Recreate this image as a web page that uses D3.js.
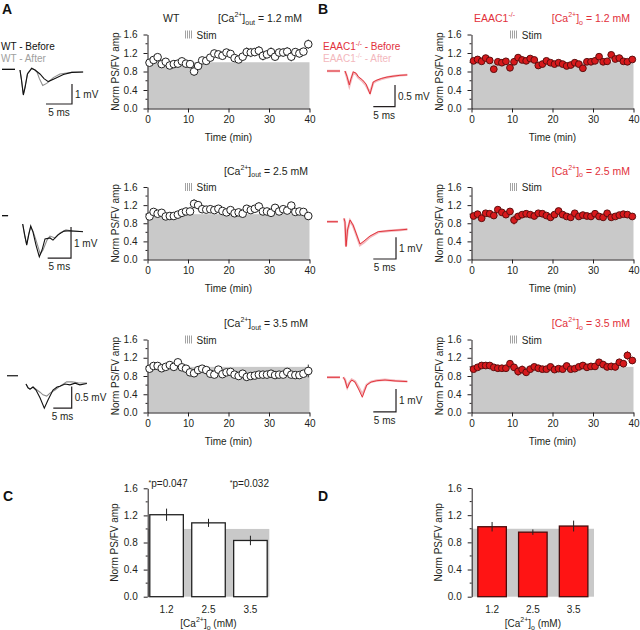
<!DOCTYPE html>
<html><head><meta charset="utf-8">
<script src="https://cdn.jsdelivr.net/npm/d3@7"></script>
<style>body{margin:0;background:#fff;} text{font-family:"Liberation Sans",Arial,sans-serif;}</style>
</head><body>
<script>
// ---------------- DATA ----------------
const minutes = [0.5,1.5,2.5,3.5,4.5,5.5,6.5,7.5,8.5,9.5,10.5,11.5,12.5,13.5,14.5,15.5,16.5,17.5,18.5,19.5,20.5,21.5,22.5,23.5,24.5,25.5,26.5,27.5,28.5,29.5,30.5,31.5,32.5,33.5,34.5,35.5,36.5,37.5,38.5,39.7];
const yTicks = [0,0.4,0.8,1.2,1.6];
const yMinorTicks = [0.2,0.6,1.0,1.4];
const timeTicks = [0,10,20,30,40];
const stimMarks = [0,0.5,1.0,1.5]; // minutes offsets of the four stim bars

const wt12 = [0.99,1.05,1.11,0.96,1.01,0.93,0.96,0.97,1.02,0.97,0.96,0.80,0.92,1.04,1.03,1.10,1.19,1.17,1.14,1.21,1.18,1.09,1.06,1.12,1.22,1.21,1.22,1.25,1.14,1.17,1.22,1.12,1.21,1.21,1.23,1.12,1.22,1.19,1.23,1.39];
const wt12Err = [0.04,0.05,0.04,0.05,0.05,0.05,0.04,0.05,0.05,0.05,0.06,0.09,0.06,0.06,0.06,0.07,0.08,0.08,0.07,0.08,0.08,0.07,0.07,0.08,0.10,0.10,0.09,0.10,0.10,0.08,0.10,0.08,0.09,0.09,0.10,0.10,0.08,0.09,0.08,0.10];
const wt25 = [0.95,1.05,1.01,1.03,0.95,0.96,0.96,0.99,1.03,1.06,1.06,1.23,1.20,1.11,1.10,1.11,1.09,1.12,1.07,1.04,1.09,1.02,1.04,1.01,1.12,1.09,1.12,1.17,1.06,1.06,1.03,1.14,1.06,1.11,1.08,1.19,1.05,1.06,1.05,0.96];
const wt25Err = [0.05,0.05,0.05,0.05,0.05,0.05,0.05,0.05,0.05,0.06,0.06,0.10,0.08,0.07,0.07,0.07,0.06,0.06,0.06,0.06,0.06,0.06,0.06,0.06,0.07,0.08,0.08,0.09,0.07,0.06,0.06,0.08,0.06,0.07,0.07,0.08,0.07,0.07,0.07,0.06];
const wt35 = [0.96,1.02,1.02,0.97,1.00,1.04,1.00,1.10,0.99,0.96,0.88,0.86,0.93,0.96,0.93,0.85,0.83,0.94,0.84,0.88,0.89,0.83,0.80,0.85,0.78,0.80,0.81,0.83,0.83,0.83,0.85,0.82,0.83,0.83,0.89,0.83,0.82,0.82,0.85,0.91];
const wt35Err = [0.04,0.04,0.04,0.04,0.04,0.04,0.04,0.05,0.04,0.04,0.06,0.06,0.07,0.05,0.06,0.05,0.05,0.07,0.05,0.05,0.05,0.05,0.05,0.05,0.05,0.05,0.05,0.05,0.05,0.05,0.05,0.05,0.05,0.05,0.05,0.05,0.05,0.06,0.06,0.14];

const ko12 = [1.03,1.06,1.02,1.09,1.04,0.85,1.01,0.99,1.02,0.88,1.01,1.10,1.05,1.03,1.08,1.05,0.93,0.96,1.03,0.99,0.96,0.99,0.96,0.92,0.94,0.99,0.96,0.87,1.01,1.01,1.03,1.12,1.01,1.02,1.16,1.07,1.09,1.02,1.01,1.06];
const ko12Err = [0.05,0.05,0.05,0.05,0.05,0.05,0.06,0.05,0.05,0.06,0.06,0.07,0.06,0.06,0.06,0.06,0.06,0.06,0.06,0.05,0.05,0.05,0.05,0.05,0.05,0.05,0.05,0.05,0.05,0.05,0.05,0.06,0.05,0.06,0.06,0.06,0.06,0.05,0.05,0.05];
const ko25 = [0.96,1.00,0.91,1.02,1.01,0.97,1.10,1.04,0.99,1.06,0.87,0.95,0.99,1.01,0.99,0.96,1.02,1.01,0.97,0.93,0.99,1.07,0.99,0.95,0.93,1.02,0.95,0.98,0.96,0.95,1.01,0.95,0.93,1.02,0.93,0.95,0.98,1.00,0.99,0.95];
const ko25Err = [0.04,0.04,0.04,0.04,0.04,0.04,0.05,0.04,0.04,0.05,0.10,0.06,0.06,0.06,0.05,0.05,0.05,0.05,0.05,0.05,0.05,0.05,0.05,0.05,0.05,0.05,0.05,0.04,0.04,0.04,0.04,0.04,0.04,0.05,0.05,0.04,0.04,0.04,0.04,0.04];
const ko35 = [0.95,0.99,1.03,1.03,1.03,0.99,0.97,0.97,0.97,1.07,0.99,0.90,0.94,0.88,0.95,1.00,0.97,0.95,0.95,1.00,0.94,0.96,0.95,1.02,0.95,0.96,1.00,1.03,0.99,1.01,1.01,1.10,1.05,1.00,1.01,1.00,1.10,1.07,1.25,1.14];
const ko35Err = [0.05,0.05,0.05,0.05,0.05,0.05,0.05,0.05,0.05,0.06,0.06,0.10,0.09,0.08,0.07,0.06,0.06,0.06,0.06,0.06,0.06,0.06,0.06,0.06,0.06,0.06,0.06,0.06,0.06,0.06,0.07,0.07,0.08,0.08,0.08,0.08,0.08,0.08,0.10,0.08];

const barCategories = ["1.2","2.5","3.5"];
const wtBarMeans = [1.21,1.09,0.83];
const wtBarErr = [0.09,0.06,0.07];
const koBarMeans = [1.03,0.95,1.04];
const koBarErr = [0.07,0.04,0.08];
const pValues = ["p=0.047","p=0.032"];

// example traces: [ms, mV]; null mV = gap
const traceA1Before = [[0,0.08],[2.5,0.08],[3,null],[3.46,0.05],[3.75,-0.45],[4.1,-1.2],[4.42,-0.85],[4.9,-0.15],[5.71,0.13],[6.35,0.05],[7.3,-0.15],[8.08,-0.38],[8.9,-0.53],[10.2,-0.37],[11.8,-0.17],[13.4,-0.07],[15.6,-0.05]];
const traceA1After = [[0,0.08],[2.5,0.08],[3,null],[3.46,0.05],[3.75,-0.45],[4.1,-1.15],[4.42,-0.8],[4.9,-0.12],[5.71,0.15],[6.35,0.05],[6.73,-0.05],[7.17,-0.37],[7.83,-0.73],[8.6,-0.62],[9.87,-0.33],[11.15,-0.15],[13.4,-0.07],[15.6,-0.05]];
const traceA2Before = [[0,0.27],[1.3,0.27],[2,null],[4.43,0],[4.86,-0.35],[5.29,-0.68],[5.72,-0.35],[6.15,-0.06],[6.64,-0.26],[7.28,-0.68],[7.99,-1.06],[8.57,-0.84],[9.21,-0.48],[10.28,-0.45],[10.92,-0.52],[11.99,-0.35],[13.28,-0.23],[14.56,-0.22],[17.34,-0.25]];
const traceA2After = [[0,0.27],[1.3,0.27],[2,null],[4.43,0],[4.86,-0.39],[5.29,-0.65],[5.72,-0.32],[6.15,-0.1],[6.64,-0.23],[7.28,-0.52],[8.2,-0.97],[8.78,-0.84],[9.64,-0.52],[10.28,-0.39],[11.35,-0.45],[12.42,-0.29],[13.7,-0.19],[15.0,-0.23],[17.34,-0.24]];
const traceA3Before = [[0,0.19],[3,0.19],[4,null],[5.16,0],[5.7,-0.09],[6.25,-0.12],[7.07,-0.07],[7.88,-0.14],[8.97,-0.32],[10.14,-0.56],[11.14,-0.37],[12.5,-0.14],[13.6,-0.07],[14.4,-0.05],[15.76,0],[17.1,-0.02],[18.5,0.02],[19.8,-0.02],[21.7,0.01]];
const traceA3After = [[0,0.19],[3,0.19],[4,null],[5.16,0],[5.7,-0.07],[6.25,-0.12],[7.07,-0.07],[7.88,-0.12],[8.97,-0.19],[9.78,-0.25],[10.79,-0.28],[11.68,-0.21],[13.04,-0.14],[14.4,-0.05],[16.22,0.05],[17.66,0.05],[19.29,0.03],[21.74,0.02]];
const traceB1Before = [[0,0],[3,0],[3.6,null],[4.15,0],[4.6,-0.12],[5.14,-0.32],[5.53,-0.18],[6.06,-0.02],[6.68,-0.05],[7.2,-0.13],[8.23,-0.21],[8.99,-0.3],[9.91,-0.53],[10.67,-0.25],[11.5,-0.21],[12.6,-0.17],[13.8,-0.14],[15.2,-0.12],[16.8,-0.1],[18.5,-0.09]];
const traceB1After = [[0,0],[3,0],[3.6,null],[4.15,0],[4.6,-0.14],[5.14,-0.34],[5.53,-0.2],[6.06,-0.04],[6.68,-0.07],[7.2,-0.15],[8.23,-0.24],[8.99,-0.33],[9.91,-0.5],[10.67,-0.27],[11.5,-0.22],[12.6,-0.18],[13.8,-0.15],[15.2,-0.12],[16.8,-0.1],[18.5,-0.09]];
const traceB2Before = [[0,0],[2.4,0],[3,null],[3.74,0.16],[3.96,-0.01],[4.19,-1.15],[4.52,-0.38],[5.07,0.08],[5.73,-0.15],[6.39,-0.52],[7.27,-1.03],[8.15,-0.89],[9.47,-0.66],[11.3,-0.46],[13.88,-0.41],[16.08,-0.38],[17.69,-0.35]];
const traceB2After = [[0,0],[2.4,0],[3,null],[3.74,0.14],[3.96,-0.03],[4.19,-1.1],[4.52,-0.4],[5.07,0.05],[5.73,-0.18],[6.39,-0.56],[7.27,-1.08],[8.15,-0.95],[9.47,-0.7],[11.3,-0.48],[13.88,-0.42],[16.08,-0.38],[17.69,-0.35]];
const traceB3Before = [[0,0],[2.86,0],[3.2,null],[3.59,0],[3.96,-0.12],[4.47,-0.48],[4.96,-0.25],[5.44,-0.12],[6.17,-0.21],[7.05,-0.56],[7.78,-0.88],[8.26,-0.6],[8.74,-0.34],[9.69,-0.21],[10.95,-0.15],[12.78,-0.12],[14.98,-0.16],[17.69,-0.19]];
const traceB3After = [[0,0],[2.86,0],[3.2,null],[3.59,0],[3.96,-0.1],[4.47,-0.44],[4.96,-0.22],[5.44,-0.1],[6.17,-0.18],[7.05,-0.48],[7.78,-0.76],[8.26,-0.55],[8.74,-0.33],[9.69,-0.2],[10.95,-0.14],[12.78,-0.11],[14.98,-0.15],[17.69,-0.18]];

// ---------------- STYLE ----------------
const AX = "#231f20", SHADE = "#c9c9c9", RED = "#e2313b", PINK = "#f3b8bd";
const svg = d3.select("body").append("svg").attr("width",640).attr("height",630);

function caTitle(g, x, y, sub, rest, color, anchor){
  const t = g.append("text").attr("x",x).attr("y",y).attr("font-size",10.5).attr("fill",color).attr("text-anchor",anchor||"start");
  t.append("tspan").text("[Ca");
  t.append("tspan").attr("font-size",7).attr("dy",-5).text("2+");
  t.append("tspan").attr("dy",5).text("]");
  t.append("tspan").attr("font-size",7).attr("dy",2.5).text(sub);
  t.append("tspan").attr("dy",-2.5).text(rest);
  return t;
}

function yAxisDraw(g, y, x0){
  const ax = g.append("g").attr("transform",`translate(${x0},0)`)
    .call(d3.axisLeft(y).tickValues(yTicks).tickSize(4).tickSizeOuter(0).tickPadding(6).tickFormat(d3.format(".1f")));
  ax.selectAll("text").attr("font-size",10).attr("fill",AX).style("font-family","Liberation Sans, Arial");
  ax.selectAll("line,path").attr("stroke",AX);
  g.append("g").selectAll("line").data(yMinorTicks).join("line")
    .attr("x1",x0-2).attr("x2",x0).attr("y1",d=>y(d)).attr("y2",d=>y(d)).attr("stroke",AX);
}

function timePanel(cfg){
  const g = svg.append("g");
  const x = d3.scaleLinear().domain([0,40]).range([cfg.x0,cfg.x1]);
  const y = d3.scaleLinear().domain([0,1.6]).range([cfg.yb,cfg.yt]);
  g.append("rect").attr("x",x(0)).attr("y",y(1)).attr("width",x(40)-x(0)).attr("height",y(0)-y(1)).attr("fill",SHADE);
  yAxisDraw(g, y, cfg.x0);
  const xa = g.append("g").attr("transform",`translate(0,${cfg.yb})`)
    .call(d3.axisBottom(x).tickValues(timeTicks).tickSize(4).tickSizeOuter(0).tickPadding(3).tickFormat(d3.format("d")));
  xa.selectAll("text").attr("font-size",10).attr("fill",AX).style("font-family","Liberation Sans, Arial");
  xa.selectAll("line,path").attr("stroke",AX);
  g.append("text").attr("transform",`translate(${cfg.x0-29},${(cfg.yb+cfg.yt)/2}) rotate(-90)`)
    .attr("text-anchor","middle").attr("font-size",10).attr("fill",AX).text("Norm PS/FV amp");
  g.append("text").attr("x",(cfg.x0+cfg.x1)/2).attr("y",cfg.yb+32).attr("text-anchor","middle").attr("font-size",10).attr("fill",AX).text("Time (min)");
  // stim bars + label
  g.append("g").selectAll("line").data(stimMarks).join("line")
    .attr("x1",d=>Math.round(x(cfg.stim+d))+0.5).attr("x2",d=>Math.round(x(cfg.stim+d))+0.5)
    .attr("y1",cfg.yt-4).attr("y2",cfg.yt+4).attr("stroke","#8a8a8a").attr("stroke-width",0.8);
  g.append("text").attr("x",x(cfg.stim+2.9)).attr("y",cfg.yt+4).attr("font-size",10).attr("fill",AX).text("Stim");
  // data
  const pts = minutes.map((m,i)=>({m, v:cfg.vals[i], e:cfg.errs[i]}));
  g.append("g").selectAll("line").data(pts).join("line")
    .attr("x1",d=>x(d.m)).attr("x2",d=>x(d.m)).attr("y1",d=>y(d.v-d.e)).attr("y2",d=>y(d.v+d.e))
    .attr("stroke",cfg.ko?"#d8232a":"#333").attr("stroke-width",1);
  g.append("g").selectAll("circle").data(pts).join("circle")
    .attr("cx",d=>x(d.m)).attr("cy",d=>y(d.v)).attr("r",cfg.ko?3.4:3.8)
    .attr("fill",cfg.ko?"#d7191c":"#fff").attr("stroke",cfg.ko?"#5c0f0f":"#222").attr("stroke-width",1);
  caTitle(g, cfg.titleX, cfg.titleY, cfg.ko?"o":"out", cfg.rest, cfg.ko?RED:AX, "end");
}

function tracePanel(cfg){
  const g = svg.append("g");
  const t = d3.scaleLinear().domain([0,1]).range([cfg.ox, cfg.ox+cfg.pxms]);
  const v = d3.scaleLinear().domain([0,1]).range([cfg.oy, cfg.oy-cfg.pxmv]);
  const line = d3.line().defined(d=>d[1]!==null).x(d=>t(d[0])).y(d=>v(d[1]));
  g.append("path").attr("d",line(cfg.after)).attr("fill","none").attr("stroke",cfg.afterColor).attr("stroke-width",cfg.afterW);
  g.append("path").attr("d",line(cfg.before)).attr("fill","none").attr("stroke",cfg.beforeColor).attr("stroke-width",cfg.beforeW);
  const sb = cfg.sb; // [ms corner, mV corner, mV size]
  g.append("path").attr("d",`M${t(sb[0]-5)},${v(sb[1])}H${t(sb[0])}V${v(sb[1]+sb[2])}`).attr("fill","none").attr("stroke",AX).attr("stroke-width",1.2);
  g.append("text").attr("x",t(sb[0])+3).attr("y",(v(sb[1])+v(sb[1]+sb[2]))/2+4).attr("font-size",10).attr("fill",AX).text(cfg.mvLabel);
  g.append("text").attr("x",(t(sb[0]-5)+t(sb[0]))/2).attr("y",v(sb[1])+12).attr("text-anchor","middle").attr("font-size",10).attr("fill",AX).text("5 ms");
}

// ---------- A / B time courses ----------
const rows = [{yb:108.5,yt:34.5,ty:22},{yb:259.5,yt:187,ty:174.5},{yb:412.5,yt:339.5,ty:327}];
timePanel({x0:147.5,x1:309.5,yb:rows[0].yb,yt:rows[0].yt,vals:wt12,errs:wt12Err,ko:false,stim:9.2,titleX:302,titleY:rows[0].ty,rest:" = 1.2 mM"});
timePanel({x0:147.5,x1:309.5,yb:rows[1].yb,yt:rows[1].yt,vals:wt25,errs:wt25Err,ko:false,stim:9.2,titleX:308,titleY:rows[1].ty,rest:" = 2.5 mM"});
timePanel({x0:147.5,x1:309.5,yb:rows[2].yb,yt:rows[2].yt,vals:wt35,errs:wt35Err,ko:false,stim:9.2,titleX:308,titleY:rows[2].ty,rest:" = 3.5 mM"});
timePanel({x0:471.5,x1:633.5,yb:rows[0].yb,yt:rows[0].yt,vals:ko12,errs:ko12Err,ko:true,stim:9.5,titleX:630,titleY:rows[0].ty,rest:" = 1.2 mM"});
timePanel({x0:471.5,x1:633.5,yb:rows[1].yb,yt:rows[1].yt,vals:ko25,errs:ko25Err,ko:true,stim:9.5,titleX:630,titleY:rows[1].ty,rest:" = 2.5 mM"});
timePanel({x0:471.5,x1:633.5,yb:rows[2].yb,yt:rows[2].yt,vals:ko35,errs:ko35Err,ko:true,stim:9.5,titleX:630,titleY:rows[2].ty,rest:" = 3.5 mM"});

svg.append("text").attr("x",163).attr("y",22).attr("font-size",10.5).attr("fill",AX).text("WT");
const koT = svg.append("text").attr("x",474).attr("y",22).attr("font-size",10.5).attr("fill",RED);
koT.append("tspan").text("EAAC1"); koT.append("tspan").attr("font-size",7).attr("dy",-5).text("-/-");

// ---------- traces ----------
const wtLeg = svg.append("g");
wtLeg.append("text").attr("x",1).attr("y",50).attr("font-size",10).attr("fill","#111").text("WT - Before");
wtLeg.append("text").attr("x",1).attr("y",62).attr("font-size",10).attr("fill","#a0a0a0").text("WT - After");
const koLeg = svg.append("g");
const kl1 = koLeg.append("text").attr("x",323).attr("y",50).attr("font-size",10).attr("fill",RED);
kl1.append("tspan").text("EAAC1"); kl1.append("tspan").attr("font-size",6.5).attr("dy",-4).text("-/-"); kl1.append("tspan").attr("dy",4).text(" - Before");
const kl2 = koLeg.append("text").attr("x",323).attr("y",62).attr("font-size",10).attr("fill",PINK);
kl2.append("tspan").text("EAAC1"); kl2.append("tspan").attr("font-size",6.5).attr("dy",-4).text("-/-"); kl2.append("tspan").attr("dy",4).text(" - After");

const wtStyle = {beforeColor:"#111",afterColor:"#8c8c8c",beforeW:1.1,afterW:1.1};
const koStyle = {beforeColor:"#e0262e",afterColor:PINK,beforeW:0.9,afterW:2.4};
tracePanel({...wtStyle,ox:2,oy:71,pxms:5.2,pxmv:20,before:traceA1Before,after:traceA1After,sb:[13.46,-1.65,1],mvLabel:"1 mV"});
tracePanel({...wtStyle,ox:2,oy:224,pxms:4.67,pxmv:31,before:traceA2Before,after:traceA2After,sb:[14.78,-1.1,1],mvLabel:"1 mV"});
tracePanel({...wtStyle,ox:7,oy:384,pxms:3.68,pxmv:43.2,before:traceA3Before,after:traceA3After,sb:[17.58,-0.56,0.5],mvLabel:"0.5 mV"});
tracePanel({...koStyle,ox:327,oy:71,pxms:4.34,pxmv:43.4,before:traceB1Before,after:traceB1After,sb:[15.67,-0.82,0.5],mvLabel:"0.5 mV"});
tracePanel({...koStyle,ox:327,oy:221.7,pxms:4.54,pxmv:21.7,before:traceB2Before,after:traceB2After,sb:[15.2,-1.72,1],mvLabel:"1 mV"});
tracePanel({...koStyle,ox:327,oy:377.3,pxms:4.54,pxmv:22.7,before:traceB3Before,after:traceB3After,sb:[15.2,-1.52,1],mvLabel:"1 mV"});

// ---------- C / D bar charts ----------
function barPanel(cfg){
  const g = svg.append("g");
  const x = d3.scaleBand().domain(barCategories).range([cfg.x0,cfg.x1]).paddingInner(cfg.pi).paddingOuter(cfg.po);
  const y = d3.scaleLinear().domain([0,1.6]).range([cfg.yb,cfg.yt]);
  g.append("rect").attr("x",cfg.x0).attr("y",y(1)).attr("width",cfg.x1-cfg.x0).attr("height",y(0)-y(1)).attr("fill",SHADE);
  const data = barCategories.map((c,i)=>({c, m:cfg.means[i], e:cfg.errs[i]}));
  g.append("g").selectAll("rect").data(data).join("rect")
    .attr("x",d=>x(d.c)).attr("y",d=>y(d.m)).attr("width",x.bandwidth()).attr("height",d=>y(0)-y(d.m))
    .attr("fill",cfg.fill).attr("stroke",cfg.stroke).attr("stroke-width",1.3);
  g.append("g").selectAll("line").data(data).join("line")
    .attr("x1",d=>x(d.c)+x.bandwidth()/2).attr("x2",d=>x(d.c)+x.bandwidth()/2)
    .attr("y1",d=>y(d.m-d.e)).attr("y2",d=>y(d.m+d.e)).attr("stroke","#222").attr("stroke-width",1);
  yAxisDraw(g, y, cfg.x0);
  g.append("g").selectAll("text").data(barCategories).join("text")
    .attr("x",d=>x(d)+x.bandwidth()/2).attr("y",cfg.yb+16).attr("text-anchor","middle").attr("font-size",10).attr("fill",AX).text(d=>d);
  g.append("text").attr("transform",`translate(${cfg.x0-30},${(cfg.yb+cfg.yt)/2}) rotate(-90)`)
    .attr("text-anchor","middle").attr("font-size",10).attr("fill",AX).text("Norm PS/FV amp");
  const t = g.append("text").attr("x",(x(barCategories[0])+x(barCategories[2])+x.bandwidth())/2).attr("y",cfg.yb+30.5).attr("text-anchor","middle").attr("font-size",10).attr("fill",AX);
  t.append("tspan").text("[Ca"); t.append("tspan").attr("font-size",7).attr("dy",-5).text("2+");
  t.append("tspan").attr("dy",5).text("]"); t.append("tspan").attr("font-size",7).attr("dy",2.5).text("o");
  t.append("tspan").attr("dy",-2.5).text(" (mM)");
  return {g,x,y};
}
barPanel({x0:147.7,x1:269.3,yb:596.7,yt:488.3,pi:0.2,po:0.05,means:wtBarMeans,errs:wtBarErr,fill:"#fff",stroke:"#222"});
barPanel({x0:471.7,x1:594,yb:596.7,yt:488,pi:0.3,po:0.15,means:koBarMeans,errs:koBarErr,fill:"#ff1414",stroke:"#4a0c0c"});
const p1 = svg.append("text").attr("x",148.5).attr("y",486.5).attr("font-size",10).attr("fill",AX);
p1.append("tspan").attr("font-size",7).attr("dy",-2).text("*"); p1.append("tspan").attr("dy",2).text(pValues[0]);
const p2 = svg.append("text").attr("x",269).attr("y",486.5).attr("text-anchor","end").attr("font-size",10).attr("fill",AX);
p2.append("tspan").attr("font-size",7).attr("dy",-2).text("*"); p2.append("tspan").attr("dy",2).text(pValues[1]);

// panel letters
[["A",2,14],["B",318,14],["C",3,501],["D",318,501]].forEach(([l,x,y])=>{
  svg.append("text").attr("x",x).attr("y",y).attr("font-size",14).attr("font-weight","bold").attr("fill","#111").text(l);
});
</script>
</body></html>
